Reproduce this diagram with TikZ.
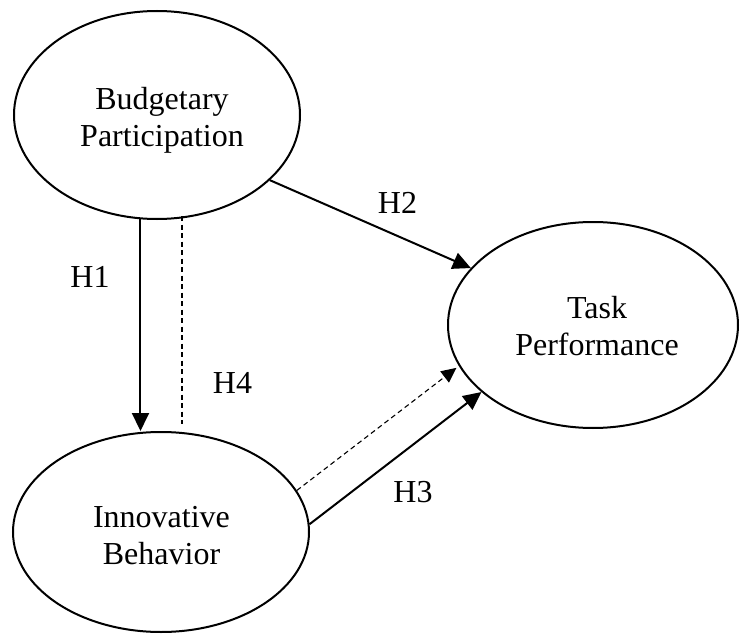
\documentclass[tikz,border=0pt]{standalone}
\usepackage{fontspec}
\setmainfont{Liberation Serif}
\usetikzlibrary{arrows.meta,shapes.geometric}
\begin{document}
\begin{tikzpicture}[x=1pt,y=-1pt,
  construct/.style={ellipse, draw, line width=2pt, inner sep=0pt},
  ctext/.style={align=center, font=\fontsize{32}{37}\selectfont, inner sep=0pt},
  hlabel/.style={font=\fontsize{32}{37}\selectfont, inner sep=0pt},
  effect/.style={line width=2pt, -{Triangle[length=18pt,width=17pt]}},
  mediation/.style={line width=1.1pt, dash pattern=on 5pt off 3.5pt},
  medarrow/.style={mediation, -{Triangle[length=15pt,width=14pt]}}
]
\useasboundingbox (0,0) rectangle (740,634);

% constructs
\node[construct, minimum width=286pt, minimum height=208pt] (bp) at (157,115) {};
\node[construct, minimum width=296pt, minimum height=200pt] (ib) at (161,532) {};
\node[construct, minimum width=290pt, minimum height=206pt] (tp) at (593,325) {};

\node[ctext] (bpt) at (162,120) {Budgetary\\Participation};
\node[ctext] (ibt) at (161.5,535.5) {Innovative\\Behavior};
\node[ctext] (tpt) at (597,326) {Task\\Performance};

% direct effects
\draw[effect] (bp.261) -- (bp.261 |- ib.north);
\draw[effect] (bp.330) -- (tp.155);
\draw[effect] (ib.3.8) -- (tp.211.1);

% mediated path
\draw[mediation] ([xshift=25pt,yshift=4pt]bp.south) -- ([xshift=21pt,yshift=7pt]ib.north);
\draw[medarrow, shorten >=3pt] (ib.17) -- (tp.197.3);

% hypothesis labels
\node[hlabel] (h1) at (90,276.5) {H1};
\node[hlabel] (h2) at (397.5,202.5) {H2};
\node[hlabel] (h3) at (413,492) {H3};
\node[hlabel] (h4) at (232.5,382.5) {H4};
\end{tikzpicture}
\end{document}
